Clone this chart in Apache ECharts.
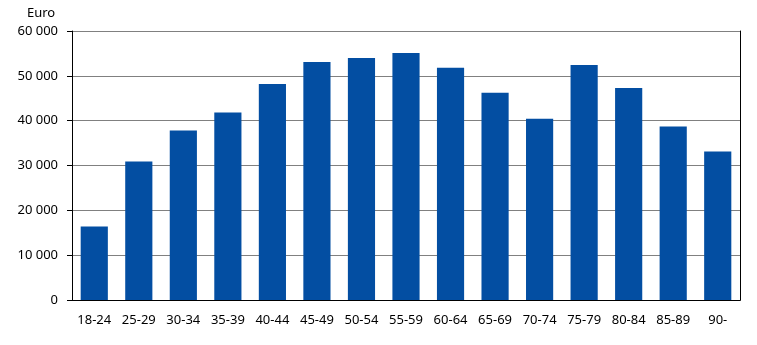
<!DOCTYPE html>
<html>
<head>
<meta charset="utf-8">
<script src="https://cdn.jsdelivr.net/npm/echarts@6/dist/echarts.min.js"></script>
<style>html,body{margin:0;padding:0;background:#fff}#c{width:757px;height:345px}</style>
</head>
<body>
<div id="c"></div>
<script>
const categories = ["18-24","25-29","30-34","35-39","40-44","45-49","50-54","55-59","60-64","65-69","70-74","75-79","80-84","85-89","90-"];
const values = [16400, 30900, 37800, 41800, 48200, 53100, 54000, 55100, 51800, 46200, 40400, 52400, 47300, 38700, 33100];
const unitLabel = "Euro";

const fontFamily = "Noto Sans, DejaVu Sans, sans-serif";
const fmt = v => String(v).replace(/\B(?=(\d{3})+(?!\d))/g, " ");

const chart = echarts.init(document.getElementById('c'), null, {renderer: 'canvas'});
chart.setOption({
  animation: false,
  backgroundColor: '#ffffff',
  title: {
    text: unitLabel, left: 22, top: 2,
    textStyle: {fontFamily, fontSize: 13, fontWeight: 'normal', color: '#000'}
  },
  grid: {left: 72, right: 17, top: 31, bottom: 45, containLabel: false},
  xAxis: [{
    type: 'category', data: categories,
    axisLine: {lineStyle: {color: '#000', width: 1}},
    axisTick: {show: false},
    axisLabel: {color: '#000', fontFamily, fontSize: 13, margin: 14},
    splitLine: {show: false}
  }, {
    type: 'category', data: categories, position: 'top',
    axisLine: {show: true, lineStyle: {color: '#000', width: 1}},
    axisTick: {show: false}, axisLabel: {show: false}, splitLine: {show: false}
  }],
  yAxis: [{
    type: 'value', min: 0, max: 60000, interval: 10000,
    axisLine: {show: true, lineStyle: {color: '#000', width: 1}},
    axisTick: {show: true, length: 5, lineStyle: {color: '#000'}},
    axisLabel: {color: '#000', fontFamily, fontSize: 13, margin: 14, formatter: fmt},
    splitLine: {show: true, lineStyle: {color: '#808080', width: 1}}
  }, {
    type: 'value', min: 0, max: 60000, interval: 10000, position: 'right',
    axisLine: {show: true, lineStyle: {color: '#000', width: 1}},
    axisTick: {show: false}, axisLabel: {show: false}, splitLine: {show: false}
  }],
  series: [{
    type: 'bar', data: values, xAxisIndex: 0, yAxisIndex: 0,
    barCategoryGap: '39%',
    itemStyle: {color: '#034EA2'}
  }]
});
</script>
</body>
</html>
